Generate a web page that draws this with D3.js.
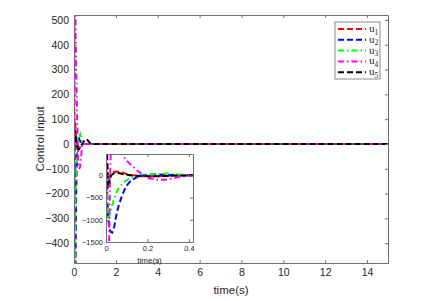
<!DOCTYPE html>
<html>
<head>
<meta charset="utf-8">
<script src="https://cdn.jsdelivr.net/npm/d3@7"></script>
<style>
  body { margin: 0; background: #fff; }
  text { font-family: "Liberation Sans", Arial, sans-serif; fill: #262626; }
</style>
</head>
<body>
<div class="chart"></div>
<script>
// time samples (s)
var time = [0, 0.005, 0.01, 0.015, 0.02, 0.025, 0.03, 0.04, 0.05, 0.06, 0.08, 0.1, 0.12, 0.15, 0.17, 0.2, 0.25, 0.3, 0.35, 0.4, 0.5, 0.6, 0.7, 0.8, 1.0, 1.5, 15];

// control inputs
var u1 = [-500, -420, -250, -100, 0, 40, 60, 80, 85, 80, 60, 30, 10, -10, -18, -25, -20, -10, -5, 0, 0, 0, 0, 0, 0, 0, 0];
var u2 = [200, -400, -900, -1150, -1250, -1280, -1290, -1150, -900, -700, -420, -230, -120, -40, -10, 15, 20, 10, 5, 0, 0, 0, 0, 0, 0, 0, 0];
var u3 = [800, -300, -1000, -950, -850, -760, -680, -520, -400, -300, -180, -110, -60, -20, 0, 15, 30, 40, 20, 5, 0, 0, 0, 0, 0, 0, 0];
var u4 = [-3000, -2700, -2500, -1500, 0, 900, 1200, 900, 700, 560, 450, 330, 240, 110, 40, -60, -100, -90, -40, -5, 0, 0, 0, 0, 0, 0, 0];
var u5 = [2500, 500, -180, -150, -60, -10, 20, 50, 55, 50, 30, 15, 0, -10, -15, -20, -20, -15, -5, 0, 15, 20, 10, 0, 0, 0, 0];

var seriesNames = ["u1", "u2", "u3", "u4", "u5"];
var seriesValues = [u1, u2, u3, u4, u5];
var seriesColors = ["#ff0000", "#0000ff", "#00ff00", "#ff00ff", "#000000"];
var seriesDash = ["6,3", "6,3", "6,3,1.5,3", "6,3,1.5,3", "6,3"];

// ticks
var xTicks = [0, 2, 4, 6, 8, 10, 12, 14];
var yTicks = [-400, -300, -200, -100, 0, 100, 200, 300, 400, 500];
var insetXTicks = [0, 0.2, 0.4];
var insetYTicks = [-1500, -1000, -500, 0];

var svgWidth = 444;
var svgHeight = 301;

var margin = { top: 15, right: 56, bottom: 38, left: 74 };
var width = svgWidth - margin.left - margin.right;
var height = svgHeight - margin.top - margin.bottom;

var svg = d3.select(".chart")
  .append("svg")
  .attr("width", svgWidth)
  .attr("height", svgHeight);

var axisColor = "#6e6e6e";

// draws one set of axes with box, inward ticks and lines
function drawAxes(g, xs, ys, w, h, xt, yt, fontSize, pad, clipId, fmtX, fmtY) {
  g.append("rect")
    .attr("width", w)
    .attr("height", h)
    .attr("fill", "#fff");

  g.append("clipPath")
    .attr("id", clipId)
    .append("rect")
    .attr("width", w)
    .attr("height", h);

  var lineGroup = g.append("g").attr("clip-path", `url(#${clipId})`);
  seriesValues.forEach((vals, i) => {
    var line = d3.line()
      .x((d, j) => xs(time[j]))
      .y(d => ys(d));
    lineGroup.append("path")
      .datum(vals)
      .attr("d", line)
      .attr("fill", "none")
      .attr("stroke", seriesColors[i])
      .attr("stroke-width", 2)
      .attr("stroke-dasharray", seriesDash[i]);
  });

  var bottom = g.append("g")
    .attr("transform", `translate(0, ${h})`)
    .call(d3.axisBottom(xs).tickValues(xt).tickSizeInner(-3).tickSizeOuter(0).tickPadding(pad + 1).tickFormat(fmtX));
  var top = g.append("g")
    .call(d3.axisTop(xs).tickValues(xt).tickSizeInner(-3).tickSizeOuter(0).tickFormat(""));
  var left = g.append("g")
    .call(d3.axisLeft(ys).tickValues(yt).tickSizeInner(-3).tickSizeOuter(0).tickPadding(pad).tickFormat(fmtY));
  var right = g.append("g")
    .attr("transform", `translate(${w}, 0)`)
    .call(d3.axisRight(ys).tickValues(yt).tickSizeInner(-3).tickSizeOuter(0).tickFormat(""));

  [bottom, top, left, right].forEach(a => {
    a.selectAll("path").attr("stroke", axisColor);
    a.selectAll("line").attr("stroke", axisColor);
    a.selectAll("text")
      .style("font-family", "'Liberation Sans', Arial, sans-serif")
      .style("font-size", fontSize + "px")
      .attr("fill", "#262626");
  });
}

// main axes
var xLinearScale = d3.scaleLinear().domain([0, 15]).range([0, width]);
var yLinearScale = d3.scaleLinear().domain([-480, 520]).range([height, 0]);

var chartGroup = svg.append("g")
  .attr("transform", `translate(${margin.left}, ${margin.top})`);

drawAxes(chartGroup, xLinearScale, yLinearScale, width, height, xTicks, yTicks, 10.5, 5, "clipMain", d3.format("d"), d3.format("d"));

// axis labels
chartGroup.append("text")
  .attr("x", width / 2)
  .attr("y", height + 31)
  .attr("text-anchor", "middle")
  .style("font-size", "11.5px")
  .text("time(s)");

chartGroup.append("text")
  .attr("transform", "rotate(-90)")
  .attr("x", -height / 2)
  .attr("y", -30)
  .attr("text-anchor", "middle")
  .style("font-size", "11.5px")
  .text("Control input");

// legend
var legend = svg.append("g")
  .attr("transform", "translate(335, 22)");

legend.append("rect")
  .attr("width", 45)
  .attr("height", 57)
  .attr("fill", "#fff")
  .attr("stroke", axisColor)
  .attr("stroke-width", 0.8);

seriesNames.forEach((name, i) => {
  var yy = 7 + i * 10.8;
  legend.append("line")
    .attr("x1", 3)
    .attr("x2", 31)
    .attr("y1", yy)
    .attr("y2", yy)
    .attr("stroke", seriesColors[i])
    .attr("stroke-width", 2)
    .attr("stroke-dasharray", seriesDash[i]);
  var t = legend.append("text")
    .attr("x", 34)
    .attr("y", yy + 3)
    .style("font-family", "'Liberation Serif', 'DejaVu Serif', serif")
    .style("font-size", "11px");
  t.append("tspan").text("u");
  t.append("tspan")
    .attr("dy", 2.5)
    .style("font-size", "7.5px")
    .text(name.slice(1));
});

// inset zoom on the first 0.42 s
var insetX = 106, insetY = 154, insetW = 87, insetH = 88;
var insetGroup = svg.append("g")
  .attr("transform", `translate(${insetX}, ${insetY})`);

var xInset = d3.scaleLinear().domain([0, 0.42]).range([0, insetW]);
var yInset = d3.scaleLinear().domain([-1500, 480]).range([insetH, 0]);

drawAxes(insetGroup, xInset, yInset, insetW, insetH, insetXTicks, insetYTicks, 7.5, 3, "clipInset", d3.format(""), d3.format("d"));

insetGroup.append("text")
  .attr("x", insetW / 2)
  .attr("y", insetH + 21)
  .attr("text-anchor", "middle")
  .style("font-size", "8px")
  .text("time(s)");
</script>
</body>
</html>
